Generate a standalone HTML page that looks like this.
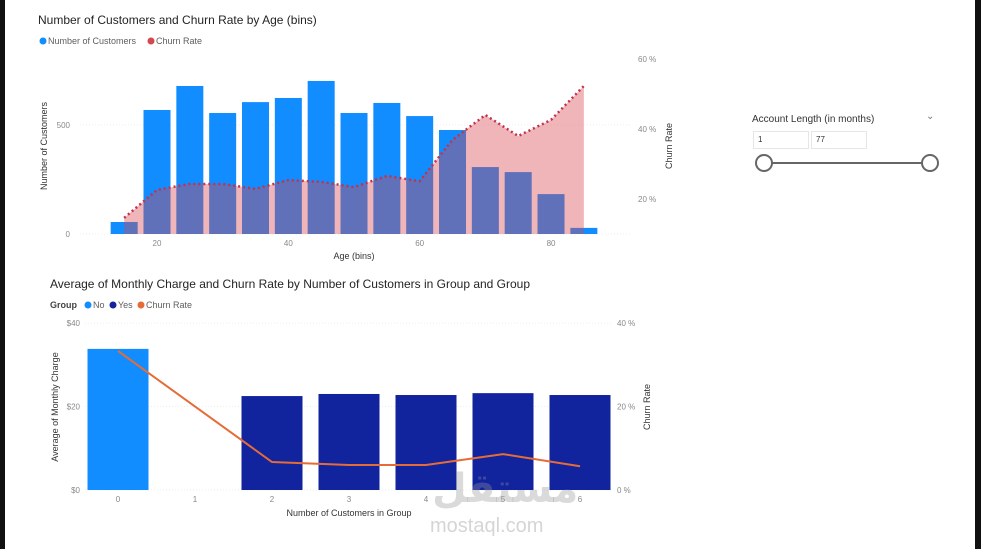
<!DOCTYPE html>
<html><head><meta charset="utf-8"><style>
body{margin:0;width:981px;height:549px;overflow:hidden;background:#fff;font-family:"Liberation Sans","Noto Sans CJK SC",sans-serif;position:relative}
.t{position:absolute;white-space:nowrap}
</style></head><body>
<div style="position:absolute;left:0;top:0;width:5px;height:549px;background:#111"></div>
<div style="position:absolute;left:975px;top:0;width:6px;height:549px;background:#111"></div>
<svg id="c1" width="981" height="549" style="position:absolute;left:0;top:0" font-family="Liberation Sans, sans-serif"></svg>
<div class="t" style="left:752px;top:114px;font-size:10px;color:#333">Account Length (in months)</div>
<div class="t" style="left:926px;top:111px;font-size:10px;color:#777">&#8964;</div>
<div class="t" style="left:753px;top:131px;width:50px;height:16px;border:1px solid #e6e6e6;font-size:8px;line-height:16px;padding-left:4px;color:#333">1</div>
<div class="t" style="left:811px;top:131px;width:50px;height:16px;border:1px solid #e6e6e6;font-size:8px;line-height:16px;padding-left:4px;color:#333">77</div>
<div style="position:absolute;left:764px;top:162px;width:166px;height:2px;background:#666"></div>
<div style="position:absolute;left:755px;top:154px;width:14px;height:14px;border:2px solid #666;border-radius:50%;background:#fff"></div>
<div style="position:absolute;left:921px;top:154px;width:14px;height:14px;border:2px solid #666;border-radius:50%;background:#fff"></div>
<div class="t" style="left:432px;top:466px;font-size:40px;font-weight:bold;color:rgba(150,150,150,0.35);font-family:'DejaVu Sans',sans-serif">مستقل</div>
<div class="t" style="left:430px;top:515px;font-size:20px;color:rgba(150,150,150,0.4)">mostaql.com</div>
<script>
// Chart 1 data
const ages=[15,20,25,30,35,40,45,50,55,60,65,70,75,80,85];
const customers=[55,569,679,555,605,624,702,555,601,541,477,307,284,183,28];
const churnAge=[14.6,22.6,24.3,24.3,22.9,25.4,24.9,23.4,26.6,25.1,36.9,44,38,42.6,52.3];
const ageTicks=[20,40,60,80];
const custTicks=[0,500];
const churnTicks1=[20,40,60];
// Chart 2 data
const groups=[0,1,2,3,4,5,6];
const groupType=["No",null,"Yes","Yes","Yes","Yes","Yes"];
const charge=[33.8,null,22.5,23,22.75,23.2,22.75];
const churnGroup=[33.3,null,6.7,6.0,6.0,8.6,5.7];
const chargeTicks=[0,20,40];
const churnTicks2=[0,20,40];

const svg=document.getElementById('c1');const NS='http://www.w3.org/2000/svg';
function mk(tag,attrs,name,txt){const e=document.createElementNS(NS,tag);for(const k in attrs)e.setAttribute(k,attrs[k]);


if(txt!=null)e.textContent=txt;svg.appendChild(e);return e;}
// chart 1 scales
const x1=a=>157+(a-20)*6.567, y1=v=>234-v*0.218, r1=p=>269-p*3.5;
mk('text',{x:38,y:24,'font-size':12,fill:'#252423'},'chart1-title','Number of Customers and Churn Rate by Age (bins)');
mk('circle',{cx:43,cy:41,r:3.5,fill:'#118dff'},'legend-customers-dot');
mk('text',{x:48,y:44,'font-size':9,fill:'#605e5c'},'legend-customers','Number of Customers');
mk('circle',{cx:151,cy:41,r:3.5,fill:'#d64550'},'legend-churn-dot');
mk('text',{x:156,y:44,'font-size':9,fill:'#605e5c'},'legend-churn','Churn Rate');
custTicks.forEach(v=>{mk('line',{x1:80,x2:630,y1:y1(v),y2:y1(v),stroke:'#eee','stroke-dasharray':'1,2'},'gridline');
mk('text',{x:70,y:y1(v)+3,'font-size':8,fill:'#888','text-anchor':'end'},'y-tick',String(v));});
churnTicks1.forEach(p=>mk('text',{x:638,y:r1(p)+3,'font-size':8,fill:'#888'},'y2-tick',p+' %'));
ageTicks.forEach(a=>mk('text',{x:x1(a),y:246,'font-size':8,fill:'#888','text-anchor':'middle'},'x-tick',String(a)));
mk('text',{x:354,y:259,'font-size':9,fill:'#333','text-anchor':'middle'},'x-axis-title','Age (bins)');
mk('text',{x:0,y:0,'font-size':9,fill:'#333','text-anchor':'middle',transform:'translate(47,146) rotate(-90)'},'y-axis-title','Number of Customers');
mk('text',{x:0,y:0,'font-size':9,fill:'#333','text-anchor':'middle',transform:'translate(672,146) rotate(-90)'},'y2-axis-title','Churn Rate');
ages.forEach((a,i)=>mk('rect',{x:x1(a)-13.5,y:y1(customers[i]),width:27,height:234-y1(customers[i]),fill:'#118dff'},'bar-age-'+a));
let pts=ages.map((a,i)=>x1(a)+','+r1(churnAge[i])).join(' ');
mk('polygon',{points:x1(ages[0])+',234 '+pts+' '+x1(ages[ages.length-1])+',234',fill:'#d64550','fill-opacity':0.4},'churn-area');
mk('polyline',{points:pts,fill:'none',stroke:'#c4314b','stroke-width':2.5,'stroke-dasharray':'2,3'},'churn-line');
// chart 2
const x2=g=>118+g*77, y2=v=>490-v*4.175, r2=p=>490-p*4.175;
mk('text',{x:50,y:288,'font-size':12,fill:'#252423'},'chart2-title','Average of Monthly Charge and Churn Rate by Number of Customers in Group and Group');
mk('text',{x:50,y:308,'font-size':9,fill:'#444','font-weight':'bold'},'legend-title','Group');
mk('circle',{cx:88,cy:305,r:3.5,fill:'#118dff'},'legend-no-dot');
mk('text',{x:93,y:308,'font-size':9,fill:'#605e5c'},'legend-no','No');
mk('circle',{cx:113,cy:305,r:3.5,fill:'#12239e'},'legend-yes-dot');
mk('text',{x:118,y:308,'font-size':9,fill:'#605e5c'},'legend-yes','Yes');
mk('circle',{cx:141,cy:305,r:3.5,fill:'#e66c37'},'legend-churn2-dot');
mk('text',{x:146,y:308,'font-size':9,fill:'#605e5c'},'legend-churn2','Churn Rate');
chargeTicks.forEach(v=>{mk('line',{x1:85,x2:612,y1:y2(v),y2:y2(v),stroke:'#eee','stroke-dasharray':'1,2'},'gridline2');
mk('text',{x:80,y:y2(v)+3,'font-size':8,fill:'#888','text-anchor':'end'},'y-tick2','$'+v);});
churnTicks2.forEach(p=>mk('text',{x:617,y:r2(p)+3,'font-size':8,fill:'#888'},'y2-tick2',p+' %'));
groups.forEach(g=>mk('text',{x:x2(g),y:502,'font-size':8,fill:'#888','text-anchor':'middle'},'x-tick2',String(g)));
mk('text',{x:349,y:516,'font-size':9,fill:'#333','text-anchor':'middle'},'x-axis-title2','Number of Customers in Group');
mk('text',{x:0,y:0,'font-size':9,fill:'#333','text-anchor':'middle',transform:'translate(58,407) rotate(-90)'},'y-axis-title2','Average of Monthly Charge');
mk('text',{x:0,y:0,'font-size':9,fill:'#333','text-anchor':'middle',transform:'translate(650,407) rotate(-90)'},'y2-axis-title2','Churn Rate');
groups.forEach((g,i)=>{if(charge[i]==null)return;
mk('rect',{x:x2(g)-30.5,y:y2(charge[i]),width:61,height:490-y2(charge[i]),fill:groupType[i]==='No'?'#118dff':'#12239e'},'bar-group-'+g);});
const lp=groups.map((g,i)=>churnGroup[i]==null?null:x2(g)+','+r2(churnGroup[i])).filter(s=>s).join(' ');
mk('polyline',{points:lp,fill:'none',stroke:'#e66c37','stroke-width':2},'churn-line2');
</script>
</body></html>
